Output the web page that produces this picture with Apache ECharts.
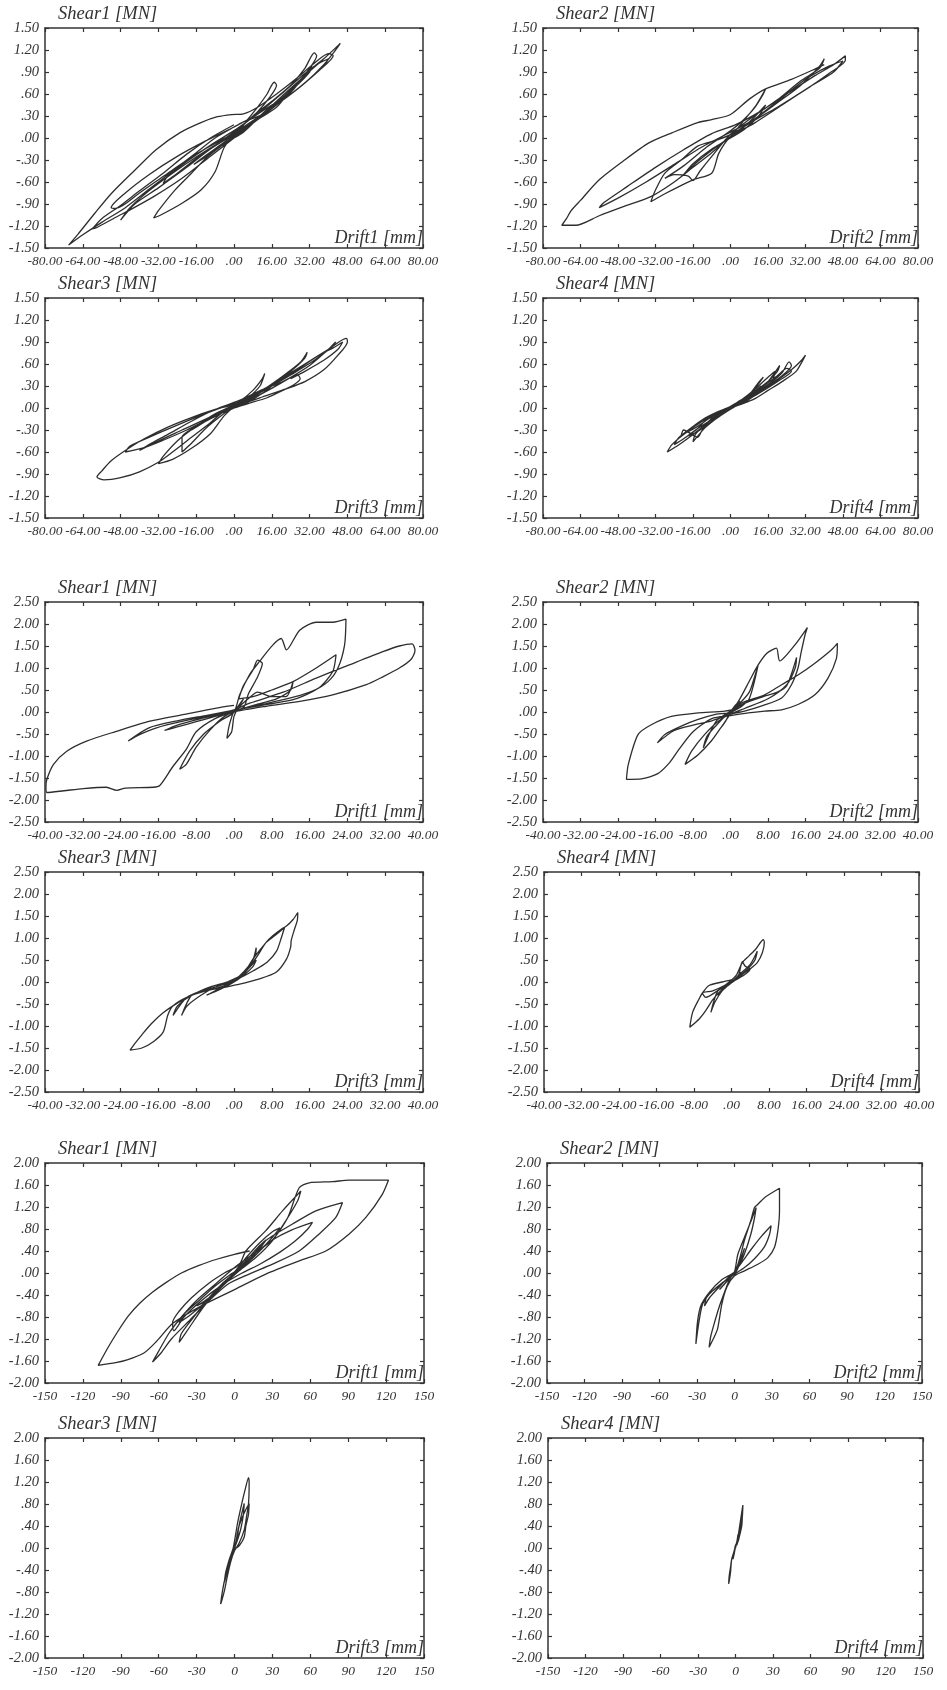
<!DOCTYPE html>
<html><head><meta charset="utf-8">
<script src="https://cdn.jsdelivr.net/npm/echarts/dist/echarts.min.js"></script>
<style>html,body{margin:0;padding:0;background:#fff}#c{width:947px;height:1690px}</style>
</head><body><div id="c"></div>
<script>
// ---------- data (drift [mm], shear [MN]) ----------
const loop1 = [[0,0],[4,0.08],[8,0.2],[12,0.33],[15,0.42],[11,0.3],[6,0.16],[0,0.04],[-6,-0.1],[-12,-0.24],[-17,-0.36],[-12,-0.26],[-6,-0.12],[0,0],
[5,0.22],[10,0.42],[14,0.6],[17,0.76],[18,0.72],[15,0.55],[10,0.36],[4,0.18],[0,0.08],[-8,-0.1],[-16,-0.28],[-24,-0.48],[-30,-0.62],[-28,-0.52],[-20,-0.32],[-10,-0.1],[0,0.1],
[8,0.28],[16,0.45],[21,0.53],[18,0.42],[10,0.25],[0,0.05],[-10,-0.15],[-20,-0.4],[-32,-0.68],[-42,-0.9],[-48,-1.12],[-44,-0.95],[-36,-0.72],[-26,-0.48],[-16,-0.26],[-6,-0.06],[4,0.12],[14,0.36],[24,0.62],[33,0.99],[32,0.9],[26,0.7],[16,0.42],[6,0.18],[0,0.05],
[8,0.3],[16,0.5],[24,0.72],[30,0.95],[34,1.16],[35,1.12],[32,0.95],[26,0.72],[18,0.48],[10,0.28],[2,0.1],[-6,-0.04],[-16,-0.22],[-28,-0.48],[-40,-0.75],[-50,-0.96],[-52,-0.95],[-46,-0.75],[-36,-0.5],[-24,-0.25],[-12,-0.04],[0,0.15],
[10,0.33],[20,0.6],[30,0.88],[38,1.08],[45,1.29],[43,1.2],[38,1.0],[30,0.75],[20,0.5],[10,0.28],[2,0.1],[-4,-0.12],[-8,-0.46],[-14,-0.71],[-22,-0.89],[-31,-1.05],[-34,-1.09],[-32,-0.99],[-25,-0.71],[-18,-0.48],[-11,-0.25],[-5,-0.1],[0,0.02],[6,0.15],[14,0.38],[22,0.62],[30,0.85],[36,1.02],[40,1.08],[38,0.98],[30,0.75],[22,0.55],[12,0.32],[4,0.22],
[0,0.15],[-8,0],[-16,-0.2],[-26,-0.45],[-36,-0.7],[-46,-0.95],[-56,-1.15],[-64,-1.32],[-70,-1.46],[-66,-1.31],[-59,-1.03],[-52,-0.76],[-42,-0.44],[-33,-0.16],[-23,0.07],[-14,0.21],[-7,0.29],[-1,0.32],[4,0.33],[10,0.42],[18,0.6],[26,0.8],[34,1.02],[40,1.15],[42,1.12],[36,0.92],[28,0.7],[18,0.45],[8,0.2],[0,0],[-10,-0.25],[-22,-0.55],[-34,-0.8],[-44,-0.98],[-50,-1.08],[-58,-1.22],[-60,-1.24],[-56,-1.1],[-48,-0.92],[-40,-0.72],[-30,-0.48],[-20,-0.22],[-10,0],[0,0.18]];

const loop2 = [[0,0],[6,0.12],[12,0.3],[15,0.45],[10,0.28],[4,0.1],[0,0],[-8,-0.15],[-16,-0.35],[-20,-0.5],[-14,-0.32],[-6,-0.12],[0,0.02],
[6,0.25],[11,0.45],[15,0.67],[14,0.6],[10,0.4],[4,0.2],[0,0.1],[-10,-0.12],[-20,-0.38],[-28,-0.55],[-24,-0.5],[-18,-0.52],[-16,-0.58],[-13,-0.45],[-8,-0.25],[0,0.05],
[10,0.3],[20,0.52],[30,0.78],[38,0.95],[40,1.08],[38,0.98],[30,0.72],[20,0.48],[10,0.25],[0,0.08],[-12,-0.12],[-24,-0.36],[-36,-0.6],[-48,-0.82],[-56,-0.95],[-54,-0.88],[-44,-0.66],[-32,-0.4],[-20,-0.16],[-8,0.06],[2,0.18],
[12,0.35],[24,0.6],[36,0.85],[44,1.0],[49,1.12],[49,1.06],[42,0.88],[32,0.66],[20,0.42],[8,0.2],[0,0.02],[-5,-0.21],[-8,-0.48],[-16,-0.57],[-28,-0.76],[-34,-0.87],[-32,-0.71],[-28,-0.48],[-21,-0.3],[-14,-0.11],[-5,-0.02],[2,0.08],[12,0.3],[22,0.55],[32,0.8],[42,0.98],[48,1.05],[44,0.9],[34,0.7],[22,0.45],[10,0.2],[0,0.02],
[-8,-0.2],[-16,-0.4],[-24,-0.6],[-34,-0.8],[-46,-0.94],[-56,-1.06],[-66,-1.19],[-72,-1.19],[-70,-1.1],[-68,-0.99],[-64,-0.85],[-56,-0.57],[-46,-0.32],[-35,-0.07],[-25,0.07],[-14,0.21],[-8,0.25],[0,0.32],[8,0.53],[15,0.67],[26,0.8],[36,0.94],[40,1.0]];

const loop3 = [[0,0],[6,0.08],[12,0.2],[16,0.3],[12,0.2],[6,0.1],[0,0.02],[-8,-0.1],[-14,-0.22],[-18,-0.3],[-12,-0.18],[-6,-0.08],[0,0],
[6,0.14],[11,0.3],[13,0.47],[12,0.4],[8,0.24],[2,0.08],[-6,-0.08],[-14,-0.22],[-22,-0.4],[-22,-0.6],[-18,-0.48],[-12,-0.28],[-6,-0.12],[0,0.02],
[10,0.2],[20,0.42],[28,0.62],[31,0.76],[30,0.68],[24,0.5],[16,0.32],[8,0.18],[0,0.04],[-10,-0.12],[-22,-0.3],[-32,-0.45],[-40,-0.58],[-36,-0.5],[-28,-0.36],[-18,-0.18],[-8,-0.02],[2,0.1],
[12,0.25],[20,0.35],[27,0.45],[28,0.4],[25,0.31],[20,0.23],[14,0.14],[6,0.06],[0,0],[-10,-0.14],[-20,-0.3],[-30,-0.44],[-38,-0.54],[-46,-0.6],[-44,-0.52],[-36,-0.4],[-26,-0.26],[-14,-0.1],[-4,0.02],[6,0.12],
[16,0.3],[24,0.45],[34,0.65],[42,0.85],[43,0.9],[40,0.8],[32,0.58],[22,0.38],[12,0.2],[2,0.06],[-4,-0.1],[-10,-0.35],[-18,-0.55],[-26,-0.7],[-32,-0.76],[-30,-0.66],[-24,-0.45],[-16,-0.25],[-8,-0.08],[0,0.04],[10,0.2],[20,0.4],[30,0.6],[40,0.8],[47.5,0.95],[48,0.9],
[44,0.72],[38,0.52],[30,0.36],[22,0.26],[12,0.15],[4,0.06],[-4,-0.04],[-10,-0.2],[-18,-0.4],[-26,-0.6],[-32,-0.74],[-40,-0.87],[-48,-0.95],[-55,-0.98],[-58,-0.94],[-56,-0.86],[-52,-0.72],[-46,-0.58],[-38,-0.42],[-28,-0.26],[-18,-0.13],[-8,-0.02],[0,0.05],[10,0.2],[20,0.38],[28,0.55],[36,0.72],[42,0.82],[46,0.9],[44,0.8],[38,0.65],[30,0.5],[24,0.4]];

const loop4 = [[0,0],[5,0.08],[10,0.2],[13,0.3],[10,0.22],[5,0.1],[0,0.02],[-5,-0.08],[-9,-0.18],[-7,-0.1],[-3,-0.02],[0,0.02],
[5,0.12],[10,0.25],[14,0.42],[12,0.35],[8,0.18],[3,0.06],[-4,-0.06],[-10,-0.15],[-14,-0.28],[-18,-0.38],[-14,-0.32],[-8,-0.18],[-2,-0.04],[4,0.06],
[8,0.18],[12,0.3],[16,0.42],[19,0.5],[18,0.38],[14,0.26],[8,0.12],[2,0.02],[-4,-0.1],[-10,-0.24],[-16,-0.46],[-15,-0.36],[-10,-0.2],[-4,-0.06],[2,0.06],
[10,0.2],[16,0.36],[21,0.58],[20,0.5],[16,0.36],[10,0.22],[4,0.1],[-2,-0.02],[-8,-0.12],[-14,-0.25],[-21,-0.37],[-20,-0.3],[-14,-0.4],[-12,-0.3],[-6,-0.14],[0,0],
[8,0.16],[16,0.32],[22,0.48],[25,0.63],[26,0.58],[22,0.44],[14,0.26],[6,0.1],[0,0],[-8,-0.16],[-16,-0.36],[-22,-0.5],[-27,-0.6],[-25,-0.5],[-20,-0.36],[-12,-0.18],[-4,-0.04],[4,0.08],[12,0.22],[20,0.38],[26,0.52],[30,0.64],[32,0.72],[31,0.66],[28,0.5],[22,0.36],[16,0.24],[10,0.12],[2,0.02],[-6,-0.12],[-14,-0.28],[-20,-0.42],[-24,-0.5],[-22,-0.4],[-18,-0.3],[-12,-0.16],[-6,-0.06],[0,0.02],[6,0.14],[14,0.3],[20,0.44],[24,0.54],[26,0.5],[20,0.36],[12,0.2],[4,0.06]];

const loop5 = [[0,0],[1,0.15],[2,0.3],[1.5,0.2],[0,0.02],[-1,-0.3],[-1.5,-0.6],[-0.5,-0.45],[0,-0.1],[1,0.1],
[3,0.3],[5,0.45],[8,0.35],[11,0.35],[12.5,0.69],[12,0.5],[9,0.3],[5,0.18],[0,0.02],[-4,-0.1],[-8,-0.22],[-12,-0.34],[-14.7,-0.42],[-12,-0.3],[-7,-0.15],[-2,-0.03],[2,0.1],
[3,0.4],[5,0.8],[6,1.1],[5,1.18],[4,0.95],[2,0.6],[1,0.3],[4,0.35],[8,0.5],[12.5,0.69],[17.4,1.0],[21.6,1.3],[20.9,0.92],[18,0.55],[14,0.38],[8,0.22],[2,0.08],[-2,-0.1],[-5,-0.4],[-8,-0.8],[-10.1,-1.19],[-11.5,-1.3],[-9.4,-0.89],[-6.5,-0.51],[-3,-0.21],[0,0],
[1.2,0.39],[3.3,0.85],[5.4,1.15],[8.2,1.52],[10,1.67],[11.1,1.41],[13.9,1.86],[17.4,2.04],[20.9,2.04],[23.7,2.11],[23.4,1.52],[22,1.0],[19.9,0.69],[16.7,0.47],[12.5,0.28],[6.8,0.17],[0,0.04],[-6,-0.08],[-12,-0.2],[-18,-0.36],[-22.4,-0.66],[-19.9,-0.51],[-16.4,-0.36],[-10.8,-0.21],[-5.8,-0.1],[0,0.05],
[3.3,0.2],[10.4,0.45],[17.4,0.77],[24.4,1.07],[31.5,1.37],[35,1.5],[37.7,1.55],[38.3,1.4],[37.5,1.2],[35,1.0],[31.5,0.8],[28,0.62],[20.9,0.39],[13.9,0.24],[6.8,0.13],[0,0],[-4,-0.15],[-8,-0.45],[-10,-0.83],[-13,-1.25],[-15.7,-1.67],[-17.1,-1.71],[-23,-1.73],[-24.8,-1.78],[-27,-1.71],[-31.9,-1.74],[-36,-1.79],[-39.6,-1.83],[-39.8,-1.7],[-39.6,-1.53],[-38.2,-1.19],[-35.4,-0.89],[-31.2,-0.66],[-24.9,-0.44],[-17.8,-0.21],[-10.8,-0.06],[-3.7,0.09],[0,0.15]];

const loop6 = [[0,0],[1,0.15],[2,0.25],[1,0.1],[0,0],[-1,-0.2],[-2,-0.35],[-1,-0.2],[0,-0.02],
[2,0.1],[4,0.3],[5.9,1.07],[5,0.75],[4,0.45],[2,0.2],[0,0.02],[-3,-0.2],[-5.8,-0.81],[-5,-0.55],[-3,-0.3],[-1,-0.08],[0,0],
[3,0.2],[7,0.35],[10,0.45],[12,0.6],[14.1,1.24],[13.8,1.0],[12,0.62],[8,0.3],[3,0.08],[0,-0.05],[-4,-0.2],[-8,-0.3],[-12,-0.42],[-15.6,-0.7],[-14,-0.51],[-10.5,-0.32],[-6.9,-0.17],[-3,-0.05],[0,0],
[2,0.3],[4,0.7],[5.9,1.07],[7.7,1.33],[9.8,1.45],[10.5,1.16],[13.7,1.52],[16.4,1.92],[15.9,1.75],[15.1,1.37],[14.4,1.0],[13,0.62],[10.9,0.32],[7,0.15],[3,0.02],[0,-0.05],[-2.6,-0.21],[-5.5,-0.51],[-8.3,-0.89],[-9.7,-1.19],[-6.9,-0.97],[-4.1,-0.66],[-2,-0.35],[0,-0.05],
[2.3,0.2],[7.3,0.39],[10.9,0.62],[14.4,0.84],[18,1.11],[21.5,1.41],[22.8,1.56],[22.6,1.22],[20.8,0.77],[18,0.39],[14.4,0.17],[10.9,0.05],[7.3,0.02],[3.8,-0.02],[0,-0.08],[-4,-0.15],[-8,-0.45],[-11,-0.85],[-13,-1.15],[-15.5,-1.4],[-19,-1.52],[-22.2,-1.53],[-21.8,-1.19],[-19.7,-0.51],[-16.9,-0.29],[-12.6,-0.1],[-6.9,-0.02],[-1.2,0.02],[2,0.1]];

const loop7 = [[0,0],[2,0.15],[4,0.35],[4.7,0.5],[3,0.3],[1,0.1],[0,0],[-2,-0.12],[-4,-0.22],[-5.8,-0.3],[-4,-0.2],[-2,-0.08],[0,0.02],
[2,0.2],[4,0.5],[4.7,0.78],[4.5,0.6],[3,0.35],[1,0.12],[-1,-0.05],[-4,-0.15],[-6.5,-0.2],[-9,-0.3],[-11.1,-0.76],[-10,-0.55],[-7,-0.3],[-4,-0.12],[-1,0],[1,0.08],
[3,0.3],[5,0.6],[6.8,0.9],[8.6,1.05],[10.7,1.24],[10,1.0],[9,0.7],[7,0.45],[4,0.25],[1,0.08],[-2,-0.05],[-6,-0.18],[-10,-0.35],[-12.9,-0.76],[-12,-0.55],[-9,-0.3],[-5,-0.12],[-1,0.02],
[2,0.2],[4,0.52],[6.8,0.9],[8.2,1.05],[10,1.2],[11.1,1.27],[12.5,1.42],[13.5,1.58],[13.4,1.4],[12.8,1.2],[12.1,0.94],[12,0.8],[11.1,0.52],[8.9,0.22],[5.4,0.07],[1.2,-0.05],[-2,-0.12],[-6,-0.2],[-10,-0.35],[-13,-0.55],[-14,-0.75],[-15,-1.14],[-17,-1.35],[-19.5,-1.5],[-22,-1.55],[-21,-1.4],[-19.5,-1.2],[-17.5,-0.95],[-15,-0.7],[-12,-0.48],[-9,-0.3],[-6,-0.15],[-3,-0.05],[0,0.02]];

const loop8 = [[0,0],[1,0.1],[2,0.22],[1.5,0.12],[0,0],[-1.5,-0.15],[-3,-0.3],[-2,-0.18],[0,-0.02],
[1.5,0.15],[2.3,0.46],[3,0.35],[4,0.3],[3,0.18],[1,0.05],[-1,-0.08],[-3,-0.22],[-4.4,-0.69],[-3.5,-0.45],[-2,-0.2],[0,0],
[2,0.2],[4,0.4],[5.5,0.7],[5,0.5],[3.5,0.3],[1.5,0.12],[-1,-0.05],[-4,-0.2],[-6.2,-0.25],[-5.5,-0.35],[-3,-0.2],[-0.5,0],
[1,0.15],[2.3,0.44],[3.8,0.6],[5.2,0.75],[6.8,0.96],[7,0.9],[6.6,0.67],[5.5,0.44],[4,0.3],[2,0.15],[0,0],[-2.6,-0.23],[-4.1,-0.42],[-5.5,-0.65],[-6.9,-0.84],[-8.9,-1.03],[-8.3,-0.69],[-6.9,-0.38],[-6.2,-0.25],[-4.8,-0.08],[-2,0],[0,0.05]];

const loop9 = [[0,0],[10,0.2],[20,0.45],[25,0.6],[20,0.5],[12,0.3],[4,0.1],[0,0],[-10,-0.25],[-20,-0.45],[-30,-0.6],[-22,-0.5],[-12,-0.28],[-4,-0.08],[0,0.02],
[10,0.3],[20,0.55],[30,0.75],[36,0.82],[30,0.65],[20,0.4],[10,0.18],[0,0],[-12,-0.28],[-24,-0.55],[-36,-0.78],[-44,-0.9],[-40,-0.75],[-28,-0.5],[-16,-0.25],[-4,-0.04],[4,0.08],
[16,0.35],[30,0.6],[45,0.78],[61.7,0.92],[58,0.8],[48,0.58],[36,0.38],[20,0.16],[6,0],[-10,-0.22],[-26,-0.5],[-40,-0.8],[-48,-1.05],[-49,-0.9],[-44,-0.7],[-34,-0.45],[-20,-0.18],[-8,0],
[3.7,0.15],[9,0.4],[24.8,0.77],[38,1.13],[52.5,1.49],[49.9,1.31],[40.6,0.95],[30.1,0.59],[16.9,0.28],[3.7,0.04],[-10,-0.25],[-24,-0.6],[-36,-1.0],[-43.8,-1.26],[-42,-1.1],[-34,-0.85],[-22,-0.5],[-10,-0.2],[0,0],
[12,0.25],[24.8,0.59],[45.9,0.89],[64.4,1.13],[85.5,1.28],[80.2,1.01],[67,0.71],[51.2,0.4],[30.1,0.16],[11.6,-0.02],[-5,-0.2],[-20,-0.5],[-35,-0.85],[-50,-1.2],[-58,-1.45],[-64.9,-1.62],[-60,-1.42],[-52,-1.1],[-42,-0.8],[-30,-0.5],[-15,-0.2],[0,0.1],
[15,0.35],[30,0.6],[42,1.0],[51.2,1.55],[59.1,1.64],[77.6,1.66],[90.8,1.69],[104,1.69],[121.9,1.69],[117,1.43],[104,1.01],[90.8,0.71],[72.3,0.4],[51.2,0.22],[24.8,-0.02],[-1.6,-0.32],[-28,-0.62],[-49,-0.92],[-62,-1.25],[-72,-1.46],[-85,-1.58],[-94,-1.63],[-107.9,-1.68],[-100,-1.35],[-92,-1.05],[-84,-0.78],[-75,-0.55],[-65,-0.35],[-54,-0.17],[-42,0],[-28,0.14],[-14,0.25],[0,0.34],[12,0.4]];

const loop10 = [[0,0],[4,0.2],[8,0.45],[6,0.3],[2,0.08],[0,0],[-6,-0.15],[-12,-0.3],[-8,-0.2],[-3,-0.05],[0,0.02],
[2.7,0.34],[8,0.65],[13.3,0.95],[17.3,1.19],[16,1.0],[13,0.7],[8,0.35],[3,0.1],[0,-0.02],[-8,-0.15],[-16,-0.3],[-22,-0.42],[-24,-0.6],[-20,-0.45],[-12,-0.25],[-5,-0.08],[0,0.02],
[6,0.2],[14,0.45],[22,0.68],[29.3,0.86],[28,0.7],[24,0.48],[16,0.26],[8,0.1],[0,-0.02],[-10,-0.18],[-20,-0.38],[-26,-0.6],[-30.9,-1.29],[-29.6,-0.89],[-27,-0.6],[-20,-0.35],[-10,-0.12],[0,0.02],
[4,0.25],[8,0.6],[13,0.95],[16,1.19],[18.7,1.25],[24,1.37],[36,1.54],[36,1.13],[34.7,0.77],[32,0.47],[26.7,0.28],[18.7,0.16],[8,0.04],[0,-0.05],[-6,-0.25],[-10,-0.55],[-13.6,-1.02],[-17,-1.2],[-20.3,-1.35],[-19,-1.15],[-16,-0.9],[-12,-0.6],[-8,-0.35],[-4,-0.12],[0,0.02]];

const loop11 = [[0,0],[1,0.1],[3,0.3],[2,0.15],[0,0],[-2,-0.15],[-4,-0.3],[-3,-0.2],[0,-0.02],
[2,0.2],[4,0.45],[6,0.65],[7.7,0.81],[7,0.6],[5,0.35],[2,0.12],[0,0],[-3,-0.2],[-6,-0.45],[-8,-0.62],[-7,-0.45],[-4,-0.2],[-1,0],
[2.4,0.45],[5.8,0.81],[8.4,1.06],[11.1,1.28],[11.6,1.18],[11.1,0.81],[9.5,0.57],[7.7,0.33],[3.7,0.09],[0,-0.05],[-3,-0.25],[-6,-0.55],[-8,-0.78],[-10,-0.95],[-11,-1.02],[-10,-0.85],[-8,-0.6],[-5,-0.35],[-2,-0.1],[1,0.1],[3,0.35],[6,0.55],[9,0.7],[11.6,0.81],[11,0.6],[9,0.4],[7.7,0.2],[4,0.05],[0,-0.02]];

const loop12 = [[0,0],[1,0.1],[2,0.25],[1.5,0.15],[0,0.02],[-1,-0.1],[-2,-0.2],[-1.5,-0.1],[0,0.02],
[2,0.2],[3,0.35],[4,0.5],[5,0.65],[5.9,0.78],[5.6,0.6],[5,0.45],[4,0.35],[3,0.2],[2,0.12],[0,0.05],[-1,-0.05],[-2.9,-0.19],[-3.5,-0.3],[-4,-0.45],[-5,-0.6],[-5.5,-0.65],[-5,-0.5],[-4,-0.35],[-3,-0.2],[-1,-0.05],[0,0.02],[2,0.18],[4,0.4],[5.5,0.6],[5,0.4],[3,0.2],[1,0.05]];

const loops = [loop1, loop2, loop3, loop4, loop5, loop6, loop7, loop8, loop9, loop10, loop11, loop12];
const shearNames = ['Shear1 [MN]','Shear2 [MN]','Shear3 [MN]','Shear4 [MN]','Shear1 [MN]','Shear2 [MN]','Shear3 [MN]','Shear4 [MN]','Shear1 [MN]','Shear2 [MN]','Shear3 [MN]','Shear4 [MN]'];
const driftNames = ['Drift1 [mm]','Drift2 [mm]','Drift3 [mm]','Drift4 [mm]','Drift1 [mm]','Drift2 [mm]','Drift3 [mm]','Drift4 [mm]','Drift1 [mm]','Drift2 [mm]','Drift3 [mm]','Drift4 [mm]'];
// axis ranges per set: [min, max, interval]
const xRanges = [[-80,80,16],[-40,40,8],[-150,150,30]];
const yRanges = [[-1.5,1.5,0.3],[-2.5,2.5,0.5],[-2,2,0.4]];
const panelSet = [0,0,0,0,1,1,1,1,2,2,2,2];

// ---------- layout ----------
const gLeft = [45,543,45,543,45,543,45,544,45,547,45,548];
const gWidth = [378,375,378,375,378,375,378,375,379,375,379,375];
const gTop = [28,28,298,298,602,602,872,872,1163,1163,1438,1438];
const gHeight = 220;

const FONT = "'Liberation Serif','DejaVu Serif','Times New Roman',serif";
const INK = '#333';

function fmt2(v){
  let s = Math.abs(v) < 1e-9 ? '0.00' : v.toFixed(2);
  if (s.indexOf('-0.') === 0) s = '-' + s.slice(2);
  else if (s.indexOf('0.') === 0) s = s.slice(1);
  return s;
}
function fmtInt(v){ return String(Math.round(v)); }

const grids = [], xAxes = [], yAxes = [], series = [];
const lineSty = {color: INK, width: 1.5};
const tickSty = {show:true, inside:true, length:4, lineStyle:{color: INK, width:1.2}};
const xLabelSty = {fontFamily: FONT, fontStyle:'italic', fontSize: 13.5, color: INK};
const yLabelSty = {fontFamily: FONT, fontStyle:'italic', fontSize: 14.5, color: INK};

for (let i = 0; i < 12; i++) {
  const s = panelSet[i];
  const xr = xRanges[s], yr = yRanges[s];
  grids.push({left: gLeft[i], top: gTop[i], width: gWidth[i], height: gHeight, containLabel:false});
  const xfmt = s === 2 ? fmtInt : fmt2;
  xAxes.push({
    type:'value', gridIndex:i, position:'bottom', min:xr[0], max:xr[1], interval:xr[2],
    axisLine:{show:true, onZero:false, lineStyle:lineSty}, axisTick:tickSty, splitLine:{show:false},
    axisLabel:Object.assign({margin:6, formatter:xfmt, showMinLabel:true, showMaxLabel:true}, xLabelSty),
    name: driftNames[i], nameLocation:'end', nameGap: 0,
    nameTextStyle:{fontFamily:FONT, fontStyle:'italic', fontSize:18, color:INK, align:'right', verticalAlign:'bottom', padding:[0,0,1,0]}
  });
  xAxes.push({
    type:'value', gridIndex:i, position:'top', min:xr[0], max:xr[1], interval:xr[2],
    axisLine:{show:true, onZero:false, lineStyle:lineSty}, axisTick:tickSty, splitLine:{show:false},
    axisLabel:{show:false}
  });
  yAxes.push({
    type:'value', gridIndex:i, position:'left', min:yr[0], max:yr[1], interval:yr[2],
    axisLine:{show:true, onZero:false, lineStyle:lineSty}, axisTick:tickSty, splitLine:{show:false},
    axisLabel:Object.assign({margin:6, formatter:fmt2, showMinLabel:true, showMaxLabel:true}, yLabelSty),
    name: shearNames[i], nameLocation:'end', nameGap: 4,
    nameTextStyle:{fontFamily:FONT, fontStyle:'italic', fontSize:18.5, color:INK, align:'left', verticalAlign:'bottom', padding:[0,0,0,13]}
  });
  yAxes.push({
    type:'value', gridIndex:i, position:'right', min:yr[0], max:yr[1], interval:yr[2],
    axisLine:{show:true, onZero:false, lineStyle:lineSty}, axisTick:tickSty, splitLine:{show:false},
    axisLabel:{show:false}
  });
  series.push({
    type:'line', xAxisIndex:2*i, yAxisIndex:2*i, data: loops[i],
    showSymbol:false, symbol:'none', smooth:0.25, clip:true,
    lineStyle:{color:'#2e2e2e', width:1.3}
  });
}

const chart = echarts.init(document.getElementById('c'), null, {renderer:'canvas'});
chart.setOption({
  animation:false, backgroundColor:'#fff',
  grid: grids, xAxis: xAxes, yAxis: yAxes, series: series
});
</script></body></html>
